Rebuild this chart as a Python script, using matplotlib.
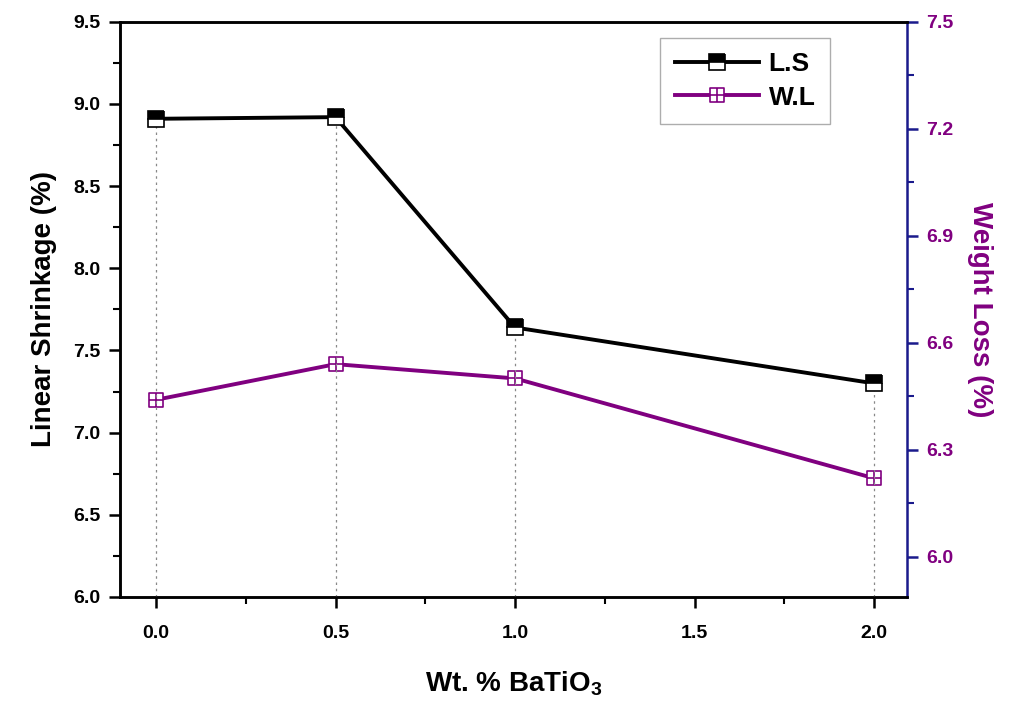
import matplotlib
matplotlib.use("Agg")
import matplotlib.pyplot as plt
from matplotlib.path import Path
from matplotlib.ticker import MultipleLocator

# data
wt_batio3 = [0.0, 0.5, 1.0, 2.0]
linear_shrinkage = [8.91, 8.92, 7.64, 7.30]
weight_loss = [6.44, 6.54, 6.50, 6.22]

plt.rcParams['font.family'] = ['Liberation Sans', 'DejaVu Sans']
plt.rcParams['font.weight'] = 'bold'
plt.rcParams['mathtext.fontset'] = 'custom'
plt.rcParams['mathtext.rm'] = 'Liberation Sans:bold'
plt.rcParams['mathtext.bf'] = 'Liberation Sans:bold'
plt.rcParams['mathtext.it'] = 'Liberation Sans:bold'

purple = '#800080'
navy = '#1a1a8c'

# square with a cross inside, for the W.L markers
box_plus = Path(
    [(-1, -1), (1, -1), (1, 1), (-1, 1), (-1, -1), (0, -1), (0, 1), (-1, 0), (1, 0)],
    [Path.MOVETO, Path.LINETO, Path.LINETO, Path.LINETO, Path.CLOSEPOLY,
     Path.MOVETO, Path.LINETO, Path.MOVETO, Path.LINETO])

fig = plt.figure(figsize=(10.18, 7.04), dpi=100)
ax = fig.add_axes([0.118, 0.152, 0.773, 0.817])
ax2 = ax.twinx()

# dotted drop lines
ax.vlines(wt_batio3, 6.0, linear_shrinkage, colors='#888888', linestyles=(0, (2, 3)),
          linewidth=0.9, zorder=1)

l1, = ax.plot(wt_batio3, linear_shrinkage, color='black', lw=2.8, marker='s',
              ms=11, fillstyle='top', markerfacecolor='black',
              markerfacecoloralt='white', markeredgecolor='black', mew=1.2,
              label='L.S', zorder=3)
l2, = ax2.plot(wt_batio3, weight_loss, color=purple, lw=2.8, marker=box_plus,
               ms=10, markerfacecolor='white', markeredgecolor=purple, mew=1.2,
               label='W.L', zorder=3)

ax.set_xlim(-0.1, 2.092)
ax.set_ylim(6.0, 9.5)
ax2.set_ylim(5.887, 7.5)

ax.xaxis.set_major_locator(MultipleLocator(0.5))
ax.xaxis.set_minor_locator(MultipleLocator(0.25))
ax.yaxis.set_major_locator(MultipleLocator(0.5))
ax.yaxis.set_minor_locator(MultipleLocator(0.25))
ax2.set_yticks([6.0, 6.3, 6.6, 6.9, 7.2, 7.5])
ax2.yaxis.set_minor_locator(MultipleLocator(0.15))
ax.xaxis.set_major_formatter(matplotlib.ticker.FormatStrFormatter('%.1f'))
ax.yaxis.set_major_formatter(matplotlib.ticker.FormatStrFormatter('%.1f'))
ax2.yaxis.set_major_formatter(matplotlib.ticker.FormatStrFormatter('%.1f'))

ax.tick_params(axis='both', which='major', direction='out', length=8, width=1.8,
               labelsize=14, pad=6)
ax.tick_params(axis='both', which='minor', direction='out', length=5, width=1.5)
ax.tick_params(axis='x', which='both', top=False)
ax.tick_params(axis='x', which='major', pad=12)
ax2.tick_params(axis='y', which='major', direction='out', length=8, width=1.8,
                colors=navy, labelcolor=purple, labelsize=14, pad=6)
ax2.tick_params(axis='y', which='minor', direction='out', length=5, width=1.5,
                colors=navy)

for s in ['left', 'bottom', 'top']:
    ax.spines[s].set_linewidth(1.8)
    ax2.spines[s].set_linewidth(1.8)
ax2.spines['right'].set_color(navy)
ax2.spines['right'].set_linewidth(1.8)
ax.spines['right'].set_visible(False)

ax.set_xlabel(r'Wt. % BaTiO$_3$', fontsize=20, fontweight='bold', labelpad=20)
ax.set_ylabel('Linear Shrinkage (%)', fontsize=20, fontweight='bold', labelpad=12)
ax2.set_ylabel('Weight Loss (%)', fontsize=20, fontweight='bold', color=purple,
               rotation=-90, labelpad=28)

leg = ax.legend(handles=[l1, l2], loc='upper right', bbox_to_anchor=(0.902, 0.972),
                borderaxespad=0, fontsize=19, frameon=True, fancybox=False,
                edgecolor='#999999', handlelength=3.2, borderpad=0.55,
                labelspacing=0.35, handletextpad=0.35)
leg.get_frame().set_linewidth(1.0)
ax.set_zorder(ax2.get_zorder() + 1)
ax.patch.set_visible(False)

fig.savefig('out.png', dpi=100)
